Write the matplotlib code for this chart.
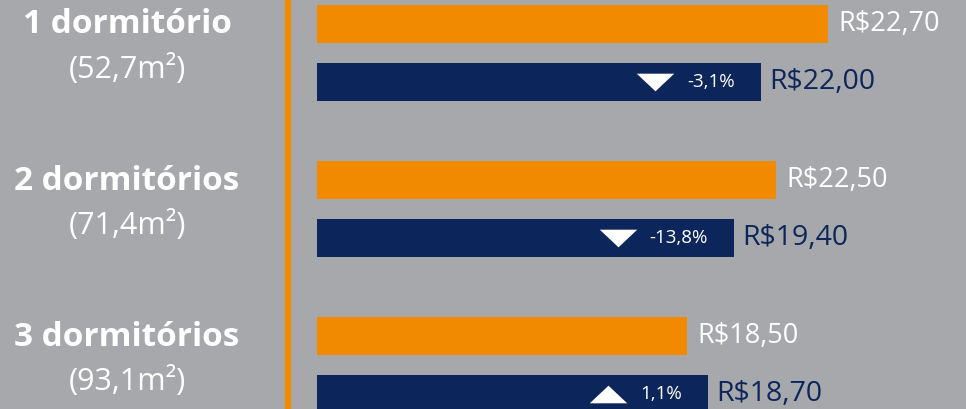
import matplotlib
matplotlib.use("Agg")
import matplotlib.pyplot as plt
from matplotlib.path import Path

# data
categories = ["1 dormitório", "2 dormitórios", "3 dormitórios"]
areas = ["(52,7m²)", "(71,4m²)", "(93,1m²)"]
orange_labels = ["R$22,70", "R$22,50", "R$18,50"]
navy_labels = ["R$22,00", "R$19,40", "R$18,70"]
changes = ["-3,1%", "-13,8%", "1,1%"]
change_up = [False, False, True]
# bar lengths as drawn in the original graphic
orange_len = [51.1, 45.9, 37.0]
navy_len = [44.4, 41.7, 39.1]

BG = "#a7a8ab"
ORANGE = "#f28a00"
NAVY = "#0c265b"

plt.rcParams['font.family'] = ['Open Sans', 'DejaVu Sans']

fig = plt.figure(figsize=(9.66, 4.09), dpi=100, facecolor=BG)
ax = fig.add_axes([0, 0, 1, 1])
ax.set_facecolor(BG)
ax.set_xlim(-31.7, 64.9)
ax.set_ylim(2.28, -0.34)
ax.axis("off")

off = 0.186
h = 0.244
ys = list(range(len(categories)))
ax.barh([y - off for y in ys], orange_len, height=h, color=ORANGE, left=0)
ax.barh([y + off for y in ys], navy_len, height=h, color=NAVY, left=0)

# vertical divider
ax.axvline(-2.9, color=ORANGE, lw=4.4)

down = Path([(-1, 0.47), (1, 0.47), (0, -0.47), (-1, 0.47)],
            [Path.MOVETO, Path.LINETO, Path.LINETO, Path.CLOSEPOLY])
up = Path([(-1, -0.47), (1, -0.47), (0, 0.47), (-1, -0.47)],
          [Path.MOVETO, Path.LINETO, Path.LINETO, Path.CLOSEPOLY])

pct_texts = []
for i, y in enumerate(ys):
    ax.text(-19.0, y - 0.18, categories[i], ha="center", va="center",
            color="white", fontsize=24, fontweight="bold")
    ax.text(-19.0, y + 0.105, areas[i], ha="center", va="center",
            color="white", fontsize=22)
    ax.text(orange_len[i] + 1.0, y - off, orange_labels[i], ha="left",
            va="center", color="white", fontsize=19.5)
    ax.text(navy_len[i] + 0.8, y + off, navy_labels[i], ha="left",
            va="center", color=NAVY, fontsize=20.5)
    t = ax.text(navy_len[i] - 2.6, y + off, changes[i], ha="right",
                va="center", color="white", fontsize=13.5)
    pct_texts.append(t)

fig.canvas.draw()
r = fig.canvas.get_renderer()
inv = ax.transData.inverted()
for i, t in enumerate(pct_texts):
    bb = t.get_window_extent(r)
    x0 = inv.transform((bb.x0, 0))[0]
    ax.plot(x0 - 3.2, ys[i] + off, marker=up if change_up[i] else down,
            markersize=27, color="white", markeredgewidth=0)

fig.savefig("out.png", dpi=100, facecolor=BG)
